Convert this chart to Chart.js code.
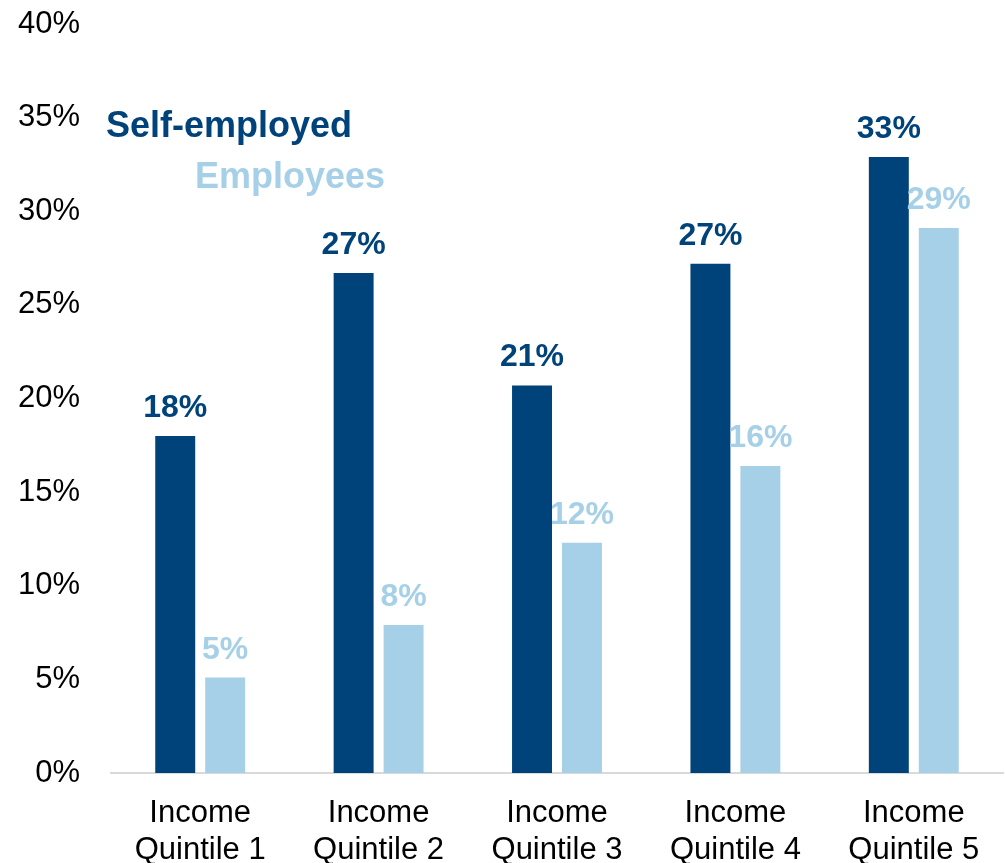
<!DOCTYPE html>
<html>
<head>
<meta charset="utf-8">
<script src="https://cdn.jsdelivr.net/npm/chart.js@4/dist/chart.umd.min.js"></script>
<style>
  html, body { margin: 0; padding: 0; background: #ffffff; }
  #wrap { width: 1005px; height: 863px; position: relative; }
</style>
</head>
<body>
<div id="wrap"><canvas id="chart"></canvas></div>
<script>
// Share of workers in each income quintile, self-employed vs employees (%)
const categories = [
  ['Income', 'Quintile 1'],
  ['Income', 'Quintile 2'],
  ['Income', 'Quintile 3'],
  ['Income', 'Quintile 4'],
  ['Income', 'Quintile 5']
];
const selfEmployed = [18.0, 26.7, 20.7, 27.2, 32.9];
const employees = [5.1, 7.9, 12.3, 16.4, 29.1];
const seriesNames = ['Self-employed', 'Employees'];
const yTicks = [0, 5, 10, 15, 20, 25, 30, 35, 40];

const DARK = '#00427a';
const LIGHT = '#a6d0e7';
const FONT = "Arial, 'Liberation Sans', Helvetica, sans-serif";

// Value labels above each bar, in the bar's colour
const barLabels = {
  id: 'barLabels',
  afterDatasetsDraw(chart) {
    const ctx = chart.ctx;
    ctx.save();
    ctx.font = 'bold 32px ' + FONT;
    ctx.textAlign = 'center';
    ctx.textBaseline = 'alphabetic';
    chart.data.datasets.forEach((ds, i) => {
      const meta = chart.getDatasetMeta(i);
      ctx.fillStyle = ds.backgroundColor;
      meta.data.forEach((bar, j) => {
        ctx.fillText(Math.round(ds.data[j]) + '%', bar.x, bar.y - 19);
      });
    });
    ctx.restore();
  }
};

// Series names written inside the plot, top left
const seriesKey = {
  id: 'seriesKey',
  afterDraw(chart) {
    const ctx = chart.ctx;
    const a = chart.chartArea;
    ctx.save();
    ctx.font = 'bold 36px ' + FONT;
    ctx.textAlign = 'left';
    ctx.textBaseline = 'alphabetic';
    ctx.fillStyle = DARK;
    ctx.fillText(seriesNames[0], a.left - 5, a.top + 113);
    ctx.fillStyle = LIGHT;
    ctx.fillText(seriesNames[1], a.left + 84, a.top + 164);
    ctx.restore();
  }
};

new Chart(document.getElementById('chart'), {
  type: 'bar',
  data: {
    labels: categories,
    datasets: [
      { label: seriesNames[0], data: selfEmployed, backgroundColor: DARK },
      { label: seriesNames[1], data: employees, backgroundColor: LIGHT }
    ]
  },
  options: {
    responsive: true,
    maintainAspectRatio: false,
    animation: false,
    events: [],
    layout: { padding: { top: 24, right: 2, left: 0, bottom: 0 } },
    datasets: {
      bar: { categoryPercentage: 0.56, barPercentage: 0.8 }
    },
    plugins: {
      legend: { display: false },
      tooltip: { enabled: false }
    },
    scales: {
      x: {
        afterFit(scale) {
          scale.height = 90;
          scale.paddingTop = 0;
          scale.paddingBottom = 0;
        },
        grid: { display: false, drawTicks: false },
        border: { display: true, color: '#d9d9d9', width: 2 },
        ticks: {
          color: '#000000',
          font: { family: FONT, size: 31 },
          padding: 22,
          maxRotation: 0,
          autoSkip: false
        }
      },
      y: {
        min: 0,
        max: 40,
        afterBuildTicks(scale) {
          scale.ticks = yTicks.map(v => ({ value: v }));
        },
        afterFit(scale) {
          scale.width = 111;
          scale.paddingTop = 0;
          scale.paddingBottom = 0;
        },
        grid: { display: false, drawTicks: false },
        border: { display: false },
        ticks: {
          color: '#000000',
          font: { family: FONT, size: 31 },
          padding: 31,
          callback: v => v + '%'
        }
      }
    }
  },
  plugins: [barLabels, seriesKey]
});
</script>
</body>
</html>
